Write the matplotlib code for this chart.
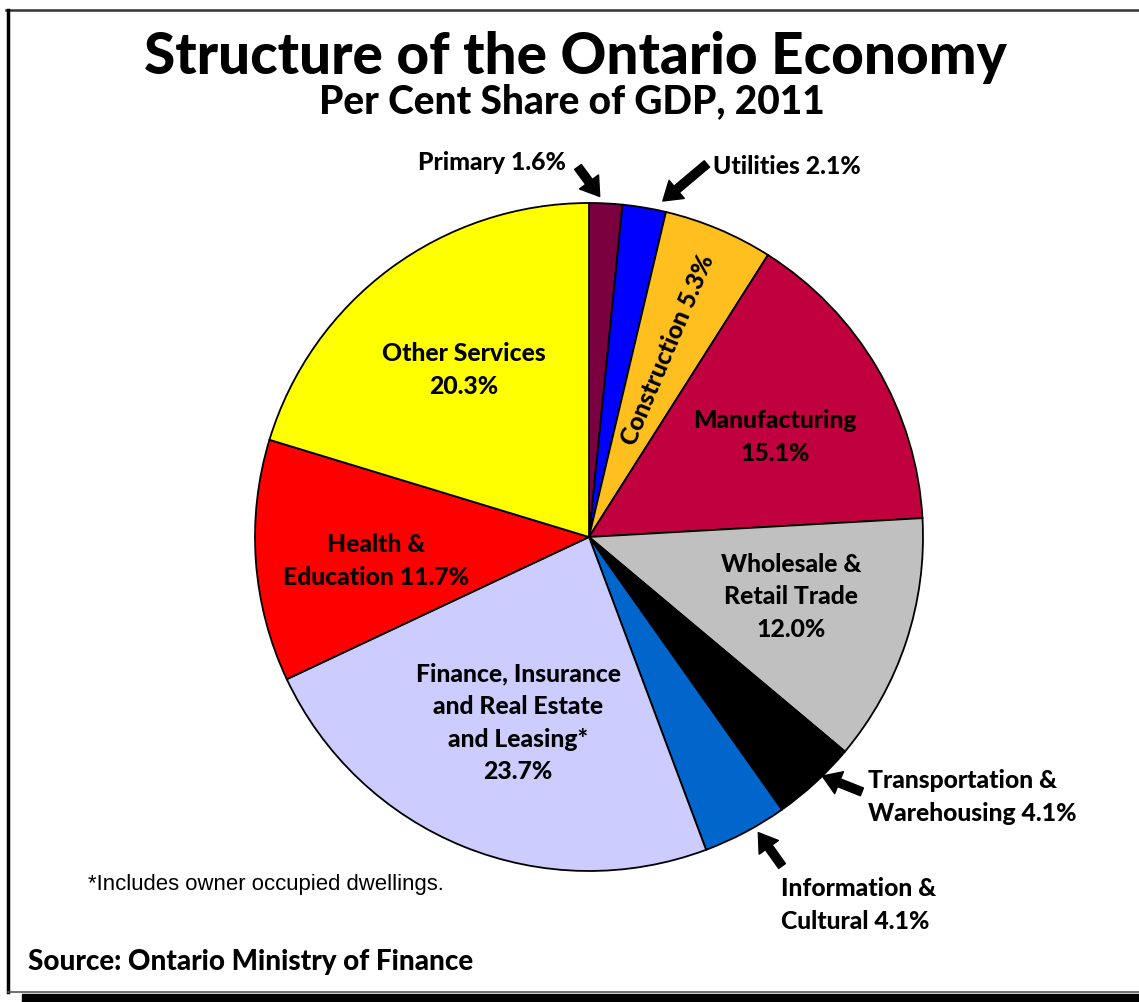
import numpy as np
import matplotlib
matplotlib.use("Agg")
import matplotlib.pyplot as plt
from matplotlib.patches import Rectangle
from matplotlib.lines import Line2D

# Data (per cent share of GDP, 2011), clockwise from 12 o'clock
sectors = ["Primary", "Utilities", "Construction", "Manufacturing",
           "Wholesale & Retail Trade", "Transportation & Warehousing",
           "Information & Cultural", "Finance, Insurance and Real Estate and Leasing",
           "Health & Education", "Other Services"]
shares = [1.6, 2.1, 5.3, 15.1, 12.0, 4.1, 4.1, 23.7, 11.7, 20.3]
colors = ["#7B0040", "#0000FF", "#FFBF1F", "#C0003F", "#C0C0C0",
          "#000000", "#0066CC", "#CCCCFF", "#FF0000", "#FFFF00"]

W, H = 1139, 1003
fig = plt.figure(figsize=(W / 100, H / 100), dpi=100)
plt.rcParams['font.family'] = ['Lato', 'DejaVu Sans']
WT = "black"


def fx(x):
    return x / W


def fy(y):
    return 1 - y / H


# pie axes: centre (589, 538) px, radius 334 px
cx, cy, r = 589, 538, 334
ax = fig.add_axes([fx(cx - r), fy(cy + r), 2 * r / W, 2 * r / H])
ax.pie(shares, colors=colors, startangle=90, counterclock=False, radius=1,
       wedgeprops=dict(edgecolor="black", linewidth=1.3))
ax.set_xlim(-1, 1)
ax.set_ylim(-1, 1)
ax.set_aspect("equal")
ax.axis("off")

# slice boundaries (degrees)
bounds = 90 - np.concatenate([[0], np.cumsum(shares)]) * 3.6
mids = (bounds[:-1] + bounds[1:]) / 2

FS = 17.8
LS = 1.5
lab = dict(fontsize=FS, fontweight=WT, ha="center", va="center",
           linespacing=LS, color="black")

# Construction label along the slice
a = np.deg2rad(mids[2])
ax.text(0.61 * np.cos(a), 0.61 * np.sin(a), "Construction 5.3%",
        rotation=mids[2], rotation_mode="anchor", **lab)

fig.text(fx(775), fy(437), "Manufacturing\n15.1%", **lab)
fig.text(fx(791), fy(597), "Wholesale &\nRetail Trade\n12.0%", **lab)
fig.text(fx(518), fy(723), "Finance, Insurance\nand Real Estate\nand Leasing*\n23.7%", **lab)
fig.text(fx(376), fy(561), "Health &\nEducation 11.7%", **lab)
fig.text(fx(464), fy(370), "Other Services\n20.3%", **lab)

# outside labels with arrows
fig.text(fx(566), fy(163), "Primary 1.6%", fontsize=FS, fontweight=WT,
         ha="right", va="center")
fig.text(fx(713), fy(167), "Utilities 2.1%", fontsize=FS, fontweight=WT,
         ha="left", va="center")
fig.text(fx(868), fy(797), "Transportation &\nWarehousing 4.1%", fontsize=FS,
         fontweight=WT, ha="left", va="center", linespacing=LS)
fig.text(fx(781), fy(905), "Information &\nCultural 4.1%", fontsize=FS,
         fontweight=WT, ha="left", va="center", linespacing=LS)

arrows = [  # (tip angle, tip radius, tail x, tail y in data units)
    (88.2, 1.02, -0.033, 1.108),
    (77.6, 1.03, 0.353, 1.117),
    (-45.7, 1.00, 0.817, -0.763),
    (-60.2, 1.02, 0.578, -0.985),
]
for ang, rr, tx, ty in arrows:
    t = np.deg2rad(ang)
    ax.annotate("", xy=(rr * np.cos(t), rr * np.sin(t)), xytext=(tx, ty),
                annotation_clip=False,
                arrowprops=dict(arrowstyle="simple,head_width=1.7,head_length=1.3,tail_width=0.6",
                                mutation_scale=10, fc="black", ec="black",
                                shrinkA=0, shrinkB=0))

# titles
fig.text(fx(575), fy(57), "Structure of the Ontario Economy", fontsize=40.8,
         fontweight=WT, ha="center", va="center")
fig.text(fx(572), fy(102), "Per Cent Share of GDP, 2011", fontsize=28,
         fontweight=WT, ha="center", va="center")

fig.text(fx(88), fy(885), "*Includes owner occupied dwellings.", fontsize=15.9,
         family="Liberation Sans", ha="left", va="center")
fig.text(fx(28), fy(962), "Source: Ontario Ministry of Finance", fontsize=20,
         fontweight=WT, ha="left", va="center")

# frame
fig.add_artist(Line2D([fx(6), 1], [fy(11), fy(11)], color="#333333", lw=1.8))
fig.add_artist(Line2D([fx(8), fx(8)], [fy(11), fy(993)], color="black", lw=2.5))
fig.add_artist(Line2D([fx(8), 1], [fy(993), fy(993)], color="#555555", lw=1.2))
fig.add_artist(Rectangle((fx(22), 0), 1 - fx(22), 8 / H, transform=fig.transFigure,
                         color="black"))

fig.savefig("out.png", dpi=100)
